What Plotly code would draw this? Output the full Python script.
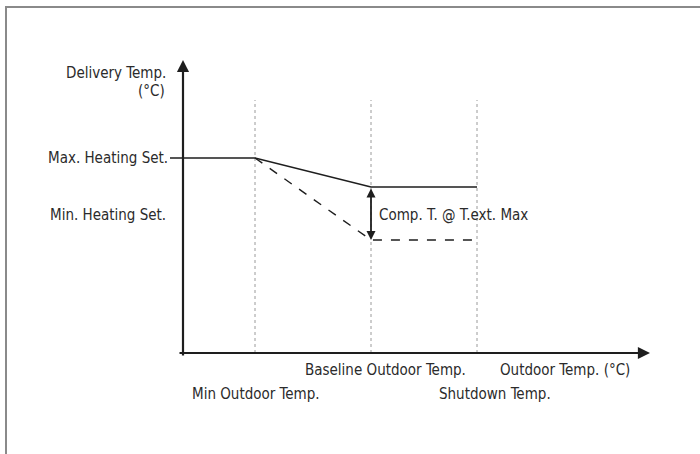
"""Heating curve schematic: delivery temperature vs outdoor temperature."""
import plotly.graph_objects as go

# Outdoor temperature break points (schematic units, origin at the axis corner)
outdoor_names = ["Min Outdoor Temp.", "Baseline Outdoor Temp.", "Shutdown Temp."]
outdoor_x = [72, 188, 294]

# Delivery set points (schematic units)
max_heating_set = 195
comp_max_set = 166
min_heating_set = 113

# Curves
curve_max_x = [-13, 72, 188, 294]
curve_max_y = [195, 195, 166, 166]
curve_min_x = [72, 188, 294]
curve_min_y = [195, 113, 113]

guide_top = 253
x_axis_end = 467
y_axis_end = 293

FONT = "DejaVu Sans Condensed, Liberation Sans Narrow, sans-serif"
TXT = "#2b2b2b"
LINE = "#1e1e1e"

fig = go.Figure()

# dotted guide lines
for xv in outdoor_x:
    fig.add_trace(go.Scatter(
        x=[xv, xv], y=[0, guide_top], mode="lines",
        line={"color": "#9a9a9a", "width": 1, "dash": "dot"},
        hoverinfo="skip", showlegend=False,
    ))

fig.add_trace(go.Scatter(
    x=curve_max_x, y=curve_max_y, mode="lines",
    line={"color": LINE, "width": 1.4}, showlegend=False,
))
fig.add_trace(go.Scatter(
    x=curve_min_x, y=curve_min_y, mode="lines",
    line={"color": LINE, "width": 1.4, "dash": "dash"}, showlegend=False,
))

# axes with arrows
fig.add_annotation(x=0, y=y_axis_end, ax=0, ay=-4, xref="x", yref="y",
                   axref="x", ayref="y", text="", showarrow=True,
                   arrowhead=2, arrowsize=1.1, arrowwidth=2.2, arrowcolor=LINE)
fig.add_annotation(x=x_axis_end, y=0, ax=-5, ay=0, xref="x", yref="y",
                   axref="x", ayref="y", text="", showarrow=True,
                   arrowhead=2, arrowsize=1.1, arrowwidth=2.2, arrowcolor=LINE)

# compensation double arrow
fig.add_annotation(x=outdoor_x[1], y=min_heating_set, ax=outdoor_x[1], ay=comp_max_set,
                   xref="x", yref="y", axref="x", ayref="y", text="",
                   showarrow=True, arrowhead=2, startarrowhead=2,
                   arrowside="end+start", arrowsize=1.0, arrowwidth=1.8,
                   arrowcolor=LINE)


def label(text, x, y, anchor):
    fig.add_annotation(x=x, y=y, xref="x", yref="y", text=text,
                       showarrow=False, xanchor=anchor, yanchor="middle",
                       font={"family": FONT, "size": 15, "color": TXT})


label("Delivery Temp.", -15, 280, "right")
label("(°C)", -16, 262, "right")
label("Max. Heating Set.", -13, max_heating_set, "right")
label("Min. Heating Set.", -15, (comp_max_set + min_heating_set) / 2 - 1, "right")
label("Comp. T. @ T.ext. Max", outdoor_x[1] + 6, (comp_max_set + min_heating_set) / 2 - 1, "left")
label(outdoor_names[1], outdoor_x[1] - 68, -17, "left")
label(outdoor_names[0], outdoor_x[0] - 65, -41, "left")
label(outdoor_names[2], outdoor_x[2] - 40, -41, "left")
label("Outdoor Temp. (°C)", 315, -17, "left")

# frame
fig.add_shape(type="rect", xref="paper", yref="paper",
              x0=6 / 700, x1=1.05, y0=-0.05, y1=1 - 7 / 454,
              line={"color": "#8a8a8a", "width": 2})

fig.update_layout(
    width=700, height=454,
    margin={"l": 0, "r": 0, "t": 0, "b": 0},
    plot_bgcolor="white", paper_bgcolor="white",
    xaxis={"range": [-183, 517], "visible": False, "fixedrange": True},
    yaxis={"range": [-101, 353], "visible": False, "fixedrange": True},
    showlegend=False,
)

fig.write_html("out.html", config={"displayModeBar": False},
               post_script="document.body.style.margin = '0';")
